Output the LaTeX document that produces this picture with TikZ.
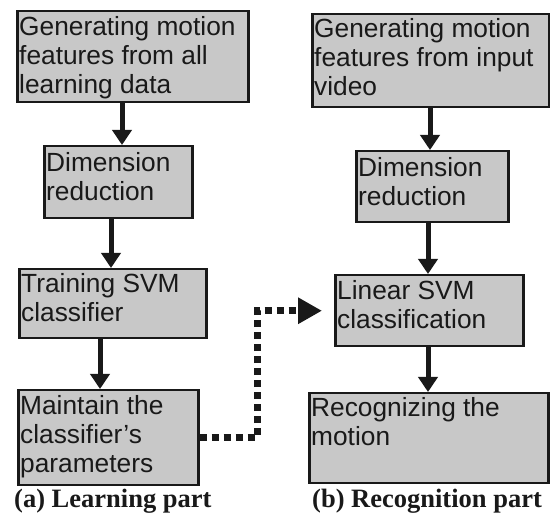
\documentclass[tikz,border=0pt]{standalone}
\usepackage{fontspec}
\setmainfont{Liberation Sans}
\newfontfamily\capfont{Liberation Serif}
\usetikzlibrary{arrows.meta,calc}
\definecolor{boxfill}{RGB}{200,200,200}
\definecolor{ink}{RGB}{25,25,25}
\newcommand\boxlines[1]{\begin{tabular}[t]{@{}l@{}}#1\end{tabular}}
\begin{document}
\begin{tikzpicture}[x=1pt,y=-1pt,
  flowbox/.style={draw=ink, line width=2.5pt, fill=boxfill, inner sep=0pt, anchor=north west},
  boxtext/.style={anchor=base west, inner sep=0pt, text=ink, font=\fontsize{26.3}{29}\selectfont},
  flowarrow/.style={draw=ink, line width=5pt, -{Triangle[length=15pt,width=19pt]}},
  dotarrow/.style={draw=ink, line width=7pt, dash pattern=on 7pt off 5pt, -{Triangle[length=24pt,width=25pt]}, shorten >=12pt},
  caption/.style={anchor=base west, inner sep=0pt, text=ink, font=\capfont\bfseries\fontsize{26.5}{30}\selectfont}]
\useasboundingbox[fill=white] (0,0) rectangle (550,518);

% learning part
\node[flowbox, minimum width=231pt, minimum height=91pt] (a1) at (16,10) {};
\node[flowbox, minimum width=148pt, minimum height=72pt] (a2) at (43,145) {};
\node[flowbox, minimum width=187pt, minimum height=69pt] (a3) at (18,268) {};
\node[flowbox, minimum width=180pt, minimum height=95pt] (a4) at (17,389) {};
% recognition part
\node[flowbox, minimum width=237pt, minimum height=93pt] (b1) at (311,13) {};
\node[flowbox, minimum width=152pt, minimum height=71pt] (b2) at (355,150) {};
\node[flowbox, minimum width=188pt, minimum height=71pt] (b3) at (334,274) {};
\node[flowbox, minimum width=239pt, minimum height=90pt] (b4) at (308,392) {};

% texts
\node[boxtext] (a1t) at ($(a1.north west)+(3,26)$) {\boxlines{Generating motion\\features from all\\learning data}};
\node[boxtext] (a2t) at ($(a2.north west)+(3,27)$) {\boxlines{Dimension\\reduction}};
\node[boxtext] (a3t) at ($(a3.north west)+(3,25)$) {\boxlines{Training SVM\\classifier}};
\node[boxtext] (a4t) at ($(a4.north west)+(3,26)$) {\boxlines{Maintain the\\classifier’s\\parameters}};
\node[boxtext] (b1t) at ($(b1.north west)+(3,25)$) {\boxlines{Generating motion\\features from input\\video}};
\node[boxtext] (b2t) at ($(b2.north west)+(3,27)$) {\boxlines{Dimension\\reduction}};
\node[boxtext] (b3t) at ($(b3.north west)+(3,26)$) {\boxlines{Linear SVM\\classification}};
\node[boxtext] (b4t) at ($(b4.north west)+(3,25)$) {\boxlines{Recognizing the\\motion}};

% arrow columns
\coordinate (ax1) at (122,0);
\coordinate (ax2) at (111,0);
\coordinate (ax3) at (100,0);
\coordinate (bx1) at (430,0);
\coordinate (bx2) at (428,0);
\coordinate (bx3) at (428,0);
\coordinate (dx) at (257,0);

\draw[flowarrow] (a1.south -| ax1) -- (a2.north -| ax1);
\draw[flowarrow] (a2.south -| ax2) -- (a3.north -| ax2);
\draw[flowarrow] (a3.south -| ax3) -- (a4.north -| ax3);
\draw[flowarrow] (b1.south -| bx1) -- (b2.north -| bx1);
\draw[flowarrow] (b2.south -| bx2) -- (b3.north -| bx2);
\draw[flowarrow] (b3.south -| bx3) -- (b4.north -| bx3);

\draw[dotarrow] (a4.east) -- (a4.east -| dx) -- (dx |- b3.west) -- (b3.west);

% captions
\node[caption] (capa) at (14,508) {(a) Learning part};
\node[caption] (capb) at (312,508) {(b) Recognition part};
\end{tikzpicture}
\end{document}
